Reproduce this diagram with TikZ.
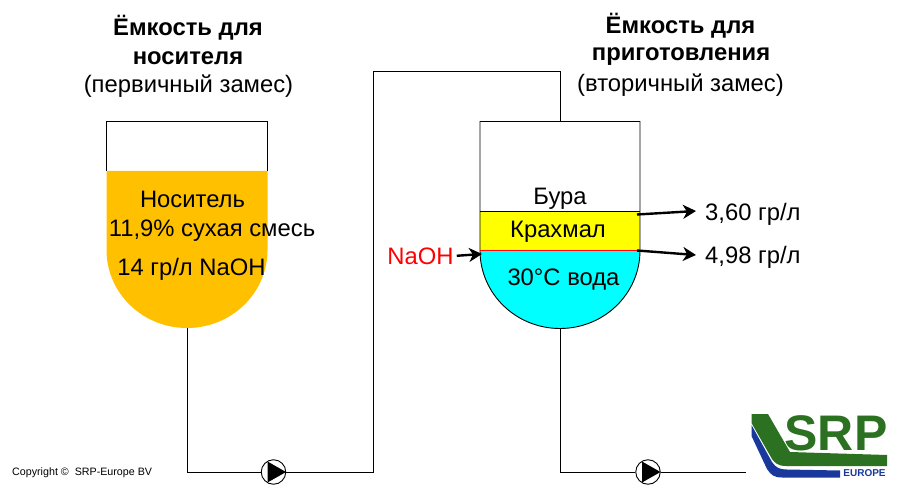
\documentclass[tikz,border=0pt]{standalone}
\usepackage{fontspec}
\setmainfont{Liberation Sans}
\usetikzlibrary{arrows.meta}
\definecolor{carrier}{RGB}{255,192,0}
\definecolor{water}{RGB}{0,255,255}
\definecolor{starch}{RGB}{255,255,0}
\definecolor{srpgreen}{RGB}{44,112,34}
\definecolor{srpblue}{RGB}{24,56,156}
\tikzset{
  x=1pt,y=-1pt,
  pipe/.style={draw=black,line width=1pt},
  outline/.style={draw=black,line width=0.9pt},
  lbl/.style={font=\fontsize{23.8}{28}\selectfont,inner sep=0pt,anchor=center},
  ttl/.style={lbl,font=\fontsize{23.8}{28}\selectfont\bfseries},
  callout/.style={draw=black,line width=2.4pt,-{Stealth[length=13pt,width=14pt,inset=4pt]}},
  pumpc/.style={circle,draw=black,fill=white,line width=0.9pt,minimum size=24.5pt,inner sep=0pt},
  pumpt/.style={fill=black,draw=none}
}
\begin{document}
\begin{tikzpicture}
\useasboundingbox (0,0) rectangle (900,500);
% coordinates
\coordinate (t1b) at (187,328);
\coordinate (c1) at (187,472);
\coordinate (u1) at (373,472);
\coordinate (u2) at (373,72);
\coordinate (u3) at (560,72);
\coordinate (t2t) at (560,121);
\coordinate (t2b) at (560,328);
\coordinate (c2) at (560,472);
\coordinate (end2) at (746,472);
\node[pumpc] (p1) at (273.5,472) {};
\node[pumpc] (p2) at (648,472) {};
% pipes
\draw[pipe] (t1b) -- (c1) -- (p1);
\draw[pipe] (p1) -- (u1) -- (u2) -- (u3) -- (t2t);
\draw[pipe] (t2b) -- (c2) -- (p2);
\draw[pipe] (p2) -- (end2);
\fill[pumpt] (267.5,461.5) -- (286,472) -- (267.5,482.5) -- cycle;
\fill[pumpt] (642,461.5) -- (660.5,472) -- (642,482.5) -- cycle;
% left vessel
\fill[carrier] (106.5,171) -- (267.5,171) -- (267.5,250) arc[start angle=0,end angle=180,x radius=80.5,y radius=78] -- cycle;
\draw[outline] (106.5,171) -- (106.5,121.5) -- (267.5,121.5) -- (267.5,171);
% right vessel
\fill[water] (480,250.5) -- (640,250.5) arc[start angle=0,end angle=180,x radius=80,y radius=78] -- cycle;
\fill[starch] (480,211.5) rectangle (640,250.5);
\draw[outline] (480,250.5) -- (480,121.5) -- (640,121.5) -- (640,250.5) arc[start angle=0,end angle=180,x radius=80,y radius=78];
\draw[outline] (480,211.5) -- (640,211.5);
\draw[draw=red,line width=1.8pt] (480,250.5) -- (640,250.5);
% titles
\node[ttl] (a1) at (188,28) {Ёмкость для};
\node[ttl] (a2) at (188,58.5) {носителя};
\node[lbl] (a3) at (188.5,86.5) {(первичный замес)};
\node[ttl] (b1) at (680.5,26) {Ёмкость для};
\node[ttl] (b2) at (681,56.5) {приготовления};
\node[lbl] (b3) at (680.5,85.5) {(вторичный замес)};
% vessel labels
\node[lbl] (n1) at (192.5,199) {Носитель};
\node[lbl] (n2) at (212,231) {11,9\% сухая смесь};
\node[lbl] (n3) at (191.5,269) {14 гр/л NaOH};
\node[lbl] (m1) at (560,199) {Бура};
\node[lbl] (m2) at (558,231.5) {Крахмал};
\node[lbl] (m3) at (563.5,279.5) {30°C вода};
\node[lbl,text=red] (naoh) at (420.5,256) {NaOH};
\node[lbl,anchor=west] (r1) at (705,214) {3,60 гр/л};
\node[lbl,anchor=west] (r2) at (705,257.5) {4,98 гр/л};
% callouts
\coordinate (s1) at (637,214.5);
\coordinate (s2) at (637,250.5);
\coordinate (e1) at (696,211);
\coordinate (e2) at (696,255);
\coordinate (s3) at (482,254);
\draw[callout] (s1) -- (e1);
\draw[callout] (s2) -- (e2);
\draw[callout,shorten <=3pt] (naoh.east) -- (s3);
% copyright
\node[inner sep=0pt,anchor=west,font=\fontsize{10.7}{12}\selectfont] (cp) at (12,472.5) {Copyright ©\ \ SRP-Europe BV};
% logo
\fill[srpblue] (751.5,425) -- (772,462) .. controls (776,468) and (780,469.5) .. (787,469.5) -- (840,470.5) -- (840,477.5) -- (782,477.5) .. controls (774,477.5) and (771,475) .. (767,469) -- (751.5,436) -- cycle;
\fill[srpgreen] (751.5,414) -- (768,414) -- (790,452) -- (887,455) -- (887,466) -- (786,466) .. controls (778,466) and (775,463) .. (772,459) -- (751.5,423) -- cycle;
\node[inner sep=0pt,text=srpgreen,font=\fontsize{50}{50}\selectfont\bfseries] (srp) at (836,433) {SRP};
\node[inner sep=0pt,text=srpblue,font=\fontsize{10}{10}\selectfont\bfseries] (eu) at (864.5,473.5) {EUROPE};
\end{tikzpicture}
\end{document}
